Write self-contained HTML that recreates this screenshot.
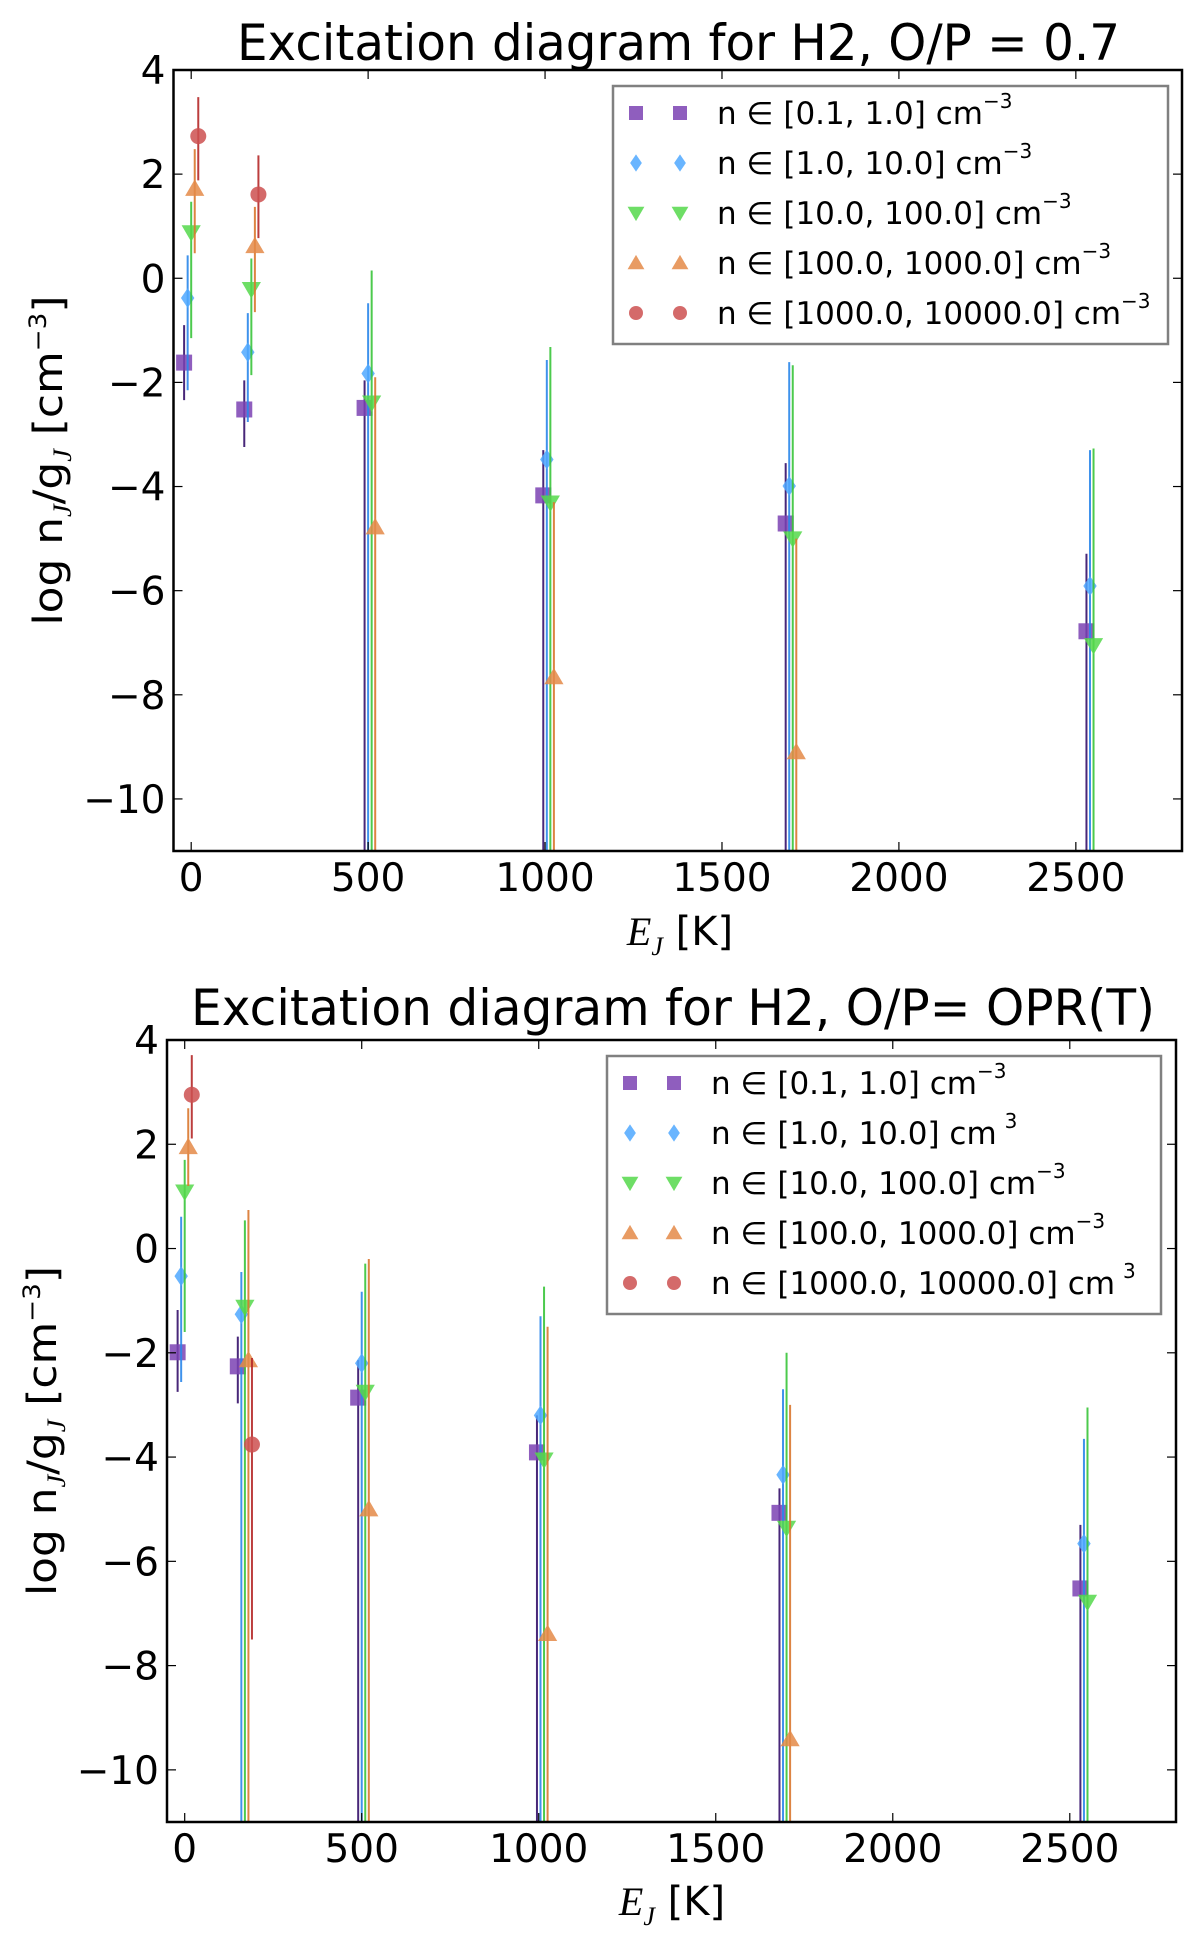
<!DOCTYPE html>
<html><head><meta charset="utf-8">
<style>
html,body{margin:0;padding:0;background:#fff;}
svg{display:block;font-family:"DejaVu Sans","Liberation Sans",sans-serif;}
</style></head>
<body>
<svg id="fig" width="1200" height="1943" viewBox="0 0 1200 1943" xmlns="http://www.w3.org/2000/svg">
<rect x="0" y="0" width="1200" height="1943" fill="#fff"/>
</svg>
<script>
// ---------- data ----------
const energies = [0, 170, 510, 1015, 1700, 2550];
const seriesOffsets = [-20, -10, 0, 10, 20];
const seriesLabels = ["[0.1, 1.0]", "[1.0, 10.0]", "[10.0, 100.0]", "[100.0, 1000.0]", "[1000.0, 10000.0]"];
const xTicks = [0, 500, 1000, 1500, 2000, 2500];
const yTicks = [-10, -8, -6, -4, -2, 0, 2, 4];
const xTickLabels = ["0", "500", "1000", "1500", "2000", "2500"];
const yTickLabels = ["\u221210", "\u22128", "\u22126", "\u22124", "\u22122", "0", "2", "4"];

// top panel (O/P = 0.7); -12 means lower error extends below the axis
const topSq = [-1.62, -2.52, -2.49, -4.17, -4.71, -6.78];
const topDi = [-0.38, -1.42, -1.83, -3.48, -3.99, -5.91];
const topTd = [0.88, -0.21, -2.39, -4.31, -5.0, -7.05];
const topTu = [1.72, 0.62, -4.78, -7.66, -9.1, null];
const topCi = [2.73, 1.61, null, null, null, null];
const topSqHi = [-0.9, -1.96, -1.96, -3.3, -3.55, -5.29];
const topDiHi = [0.44, -0.67, -0.48, -1.57, -1.61, -3.3];
const topTdHi = [1.47, 0.38, 0.15, -1.32, -1.67, -3.27];
const topTuHi = [2.48, 1.37, -1.9, -4.3, -5.0, null];
const topCiHi = [3.48, 2.36, null, null, null, null];
const topSqLo = [-2.34, -3.24, -12, -12, -12, -12];
const topDiLo = [-2.15, -2.76, -12, -12, -12, -12];
const topTdLo = [-1.15, -1.86, -12, -12, -12, -12];
const topTuLo = [0.48, -0.65, -12, -12, -12, null];
const topCiLo = [1.88, 0.77, null, null, null, null];

// bottom panel (O/P = OPR(T))
const botSq = [-1.99, -2.26, -2.86, -3.91, -5.07, -6.52];
const botDi = [-0.53, -1.26, -2.2, -3.2, -4.34, -5.66];
const botTd = [1.09, -1.12, -2.75, -4.05, -5.36, -6.78];
const botTu = [1.95, -2.14, -5.0, -7.39, -9.41, null];
const botCi = [2.95, -3.76, null, null, null, null];
const botSqHi = [-1.18, -1.69, -2.14, -3.2, -4.6, -5.3];
const botDiHi = [0.61, -0.45, -0.83, -1.3, -2.7, -3.65];
const botTdHi = [1.70, 0.54, -0.29, -0.73, -2.0, -3.05];
const botTuHi = [2.69, 0.74, -0.2, -1.5, -3.0, null];
const botCiHi = [3.71, -2.1, null, null, null, null];
const botSqLo = [-2.75, -2.97, -12, -12, -12, -12];
const botDiLo = [-2.56, -12, -12, -12, -12, -12];
const botTdLo = [-1.60, -12, -12, -12, -12, -12];
const botTuLo = [1.2, -12, -12, -12, -12, null];
const botCiLo = [2.11, -7.5, null, null, null, null];

// ---------- drawing ----------
const NS = "http://www.w3.org/2000/svg";
const svg = document.getElementById("fig");
function mk(tag, attrs, parent) {
  const e = document.createElementNS(NS, tag);
  for (const k in attrs) e.setAttribute(k, attrs[k]);
  (parent || svg).appendChild(e);
  return e;
}
const markerFill = ["#7b42b3", "#4fa8ff", "#55d84b", "#e48a48", "#cc5050"];
const barColor = ["#34106a", "#2a86ea", "#38c43a", "#d9772e", "#b52828"];
const shapes = ["square", "diamond", "tdown", "tup", "circle"];

function drawMarker(g, shape, cx, cy, s, fill) {
  let el;
  if (shape === "square") el = mk("rect", {x: cx - s/2, y: cy - s/2, width: s, height: s}, g);
  else if (shape === "circle") el = mk("circle", {cx: cx, cy: cy, r: s/2}, g);
  else if (shape === "diamond") el = mk("polygon", {points: `${cx},${cy - s*0.62} ${cx + s*0.42},${cy} ${cx},${cy + s*0.62} ${cx - s*0.42},${cy}`}, g);
  else if (shape === "tdown") el = mk("polygon", {points: `${cx - s*0.6},${cy - s*0.45} ${cx + s*0.6},${cy - s*0.45} ${cx},${cy + s*0.58}`}, g);
  else el = mk("polygon", {points: `${cx - s*0.6},${cy + s*0.45} ${cx + s*0.6},${cy + s*0.45} ${cx},${cy - s*0.58}`}, g);
  el.setAttribute("fill", fill);
  el.setAttribute("fill-opacity", "0.85");
  return el;
}

function drawPanel(p) {
  const g = mk("g", {});
  
  
  const xs = v => p.L + (v - (-50)) / (2800 - (-50)) * (p.R - p.L);
  const ys = v => p.B - (v - (-11)) / (4 - (-11)) * (p.B - p.T);

  const t = mk("text", {x: p.titleX, y: p.titleY, "font-size": 50, textLength: p.titleW, lengthAdjust: "spacingAndGlyphs", fill: "#000"}, g);
  t.textContent = p.title;
  
  

  const cid = "clip-" + p.name;
  const cp = mk("clipPath", {id: cid}, g);
  mk("rect", {x: p.L, y: p.T, width: p.R - p.L, height: p.B - p.T}, cp);
  const plot = mk("g", {"clip-path": `url(#${cid})`}, g);
  
  

  p.series.forEach((s, si) => {
    const sg = mk("g", {}, plot);
    
    
    s.v.forEach((val, i) => {
      if (val === null) return;
      const x = xs(energies[i] + seriesOffsets[si]);
      const ln = mk("line", {x1: x, x2: x, y1: ys(s.hi[i]), y2: ys(s.lo[i]), stroke: barColor[si], "stroke-width": 2, "stroke-opacity": 0.9}, sg);
      
      
    });
    s.v.forEach((val, i) => {
      if (val === null) return;
      const x = xs(energies[i] + seriesOffsets[si]);
      const m = drawMarker(sg, shapes[si], x, ys(val), 16, markerFill[si]);
      
      
    });
  });

  const fr = mk("rect", {x: p.L, y: p.T, width: p.R - p.L, height: p.B - p.T, fill: "none", stroke: "#000", "stroke-width": 2.5}, g);
  
  

  xTicks.forEach((v, i) => {
    const x = xs(v);
    mk("line", {x1: x, x2: x, y1: p.B, y2: p.B - 9, stroke: "#000", "stroke-width": 1.2}, g);
    mk("line", {x1: x, x2: x, y1: p.T, y2: p.T + 9, stroke: "#000", "stroke-width": 1.2}, g);
    const tl = mk("text", {x: x, y: p.B + 40, "font-size": 39, "text-anchor": "middle", fill: "#000"}, g);
    tl.textContent = xTickLabels[i];
    
    
  });
  yTicks.forEach((v, i) => {
    const y = ys(v);
    mk("line", {x1: p.L, x2: p.L + 9, y1: y, y2: y, stroke: "#000", "stroke-width": 1.2}, g);
    mk("line", {x1: p.R, x2: p.R - 9, y1: y, y2: y, stroke: "#000", "stroke-width": 1.2}, g);
    const tl = mk("text", {x: p.L - 8, y: y + 14, "font-size": 39, "text-anchor": "end", fill: "#000"}, g);
    tl.textContent = yTickLabels[i];
    
    
  });

  const xt = mk("text", {x: p.xlabX, y: p.xlabY, "font-size": 40, "text-anchor": "middle", fill: "#000"}, g);
  
  
  xt.innerHTML = '<tspan font-family="Liberation Serif, serif" font-style="italic">E</tspan><tspan font-family="Liberation Serif, serif" font-style="italic" font-size="26" dy="10">J</tspan><tspan dy="-10"> [K]</tspan>';

  const yt = mk("text", {transform: `translate(${p.ylabX},${(p.T + p.B) / 2}) rotate(-90)`, "font-size": 40, "text-anchor": "middle", fill: "#000", textLength: 330, lengthAdjust: "spacingAndGlyphs"}, g);
  
  
  yt.innerHTML = 'log n<tspan font-family="Liberation Serif, serif" font-style="italic" font-size="26" dy="9">J</tspan><tspan dy="-9">/g</tspan><tspan font-family="Liberation Serif, serif" font-style="italic" font-size="26" dy="9">J</tspan><tspan dy="-9"> [cm</tspan><tspan font-size="24" dy="-16">\u22123</tspan><tspan dy="16">]</tspan>';

  const lg = mk("g", {}, g);
  
  
  mk("rect", {x: p.lgX, y: p.lgY, width: p.lgW, height: p.lgH, fill: "#fff", stroke: "#808080", "stroke-width": 2.5}, lg);
  seriesLabels.forEach((lab, i) => {
    const ry = p.lgY + 27 + i * 50;
    const eg = mk("g", {}, lg);
    
    
    drawMarker(eg, shapes[i], p.lgX + 23, ry, 14, markerFill[i]);
    drawMarker(eg, shapes[i], p.lgX + 67, ry, 14, markerFill[i]);
    const tx = mk("text", {x: p.lgX + 104, y: ry + 11, "font-size": 31, fill: "#000"}, eg);
    const sup = p.noMinus[i] ? "\u2009\u20093" : "\u22123";
    tx.innerHTML = `n \u2208 ${lab} cm<tspan font-size="20" dy="-16">${sup}</tspan>`;
  });
}

drawPanel({name: "top-panel", L: 173.5, R: 1182, T: 70, B: 851,
  title: "Excitation diagram for H2, O/P = 0.7", titleX: 237, titleY: 60, titleW: 883,
  xlabX: 680, xlabY: 945, ylabX: 62,
  lgX: 613, lgY: 86, lgW: 555, lgH: 258, noMinus: [false, false, false, false, false],
  series: [
    {v: topSq, hi: topSqHi, lo: topSqLo},
    {v: topDi, hi: topDiHi, lo: topDiLo},
    {v: topTd, hi: topTdHi, lo: topTdLo},
    {v: topTu, hi: topTuHi, lo: topTuLo},
    {v: topCi, hi: topCiHi, lo: topCiLo}]});

drawPanel({name: "bottom-panel", L: 167, R: 1176, T: 1040, B: 1822,
  title: "Excitation diagram for H2, O/P= OPR(T)", titleX: 191, titleY: 1025, titleW: 964,
  xlabX: 672, xlabY: 1915, ylabX: 56,
  lgX: 607, lgY: 1056, lgW: 554, lgH: 258, noMinus: [false, true, false, false, true],
  series: [
    {v: botSq, hi: botSqHi, lo: botSqLo},
    {v: botDi, hi: botDiHi, lo: botDiLo},
    {v: botTd, hi: botTdHi, lo: botTdLo},
    {v: botTu, hi: botTuHi, lo: botTuLo},
    {v: botCi, hi: botCiHi, lo: botCiLo}]});
</script>
</body></html>
